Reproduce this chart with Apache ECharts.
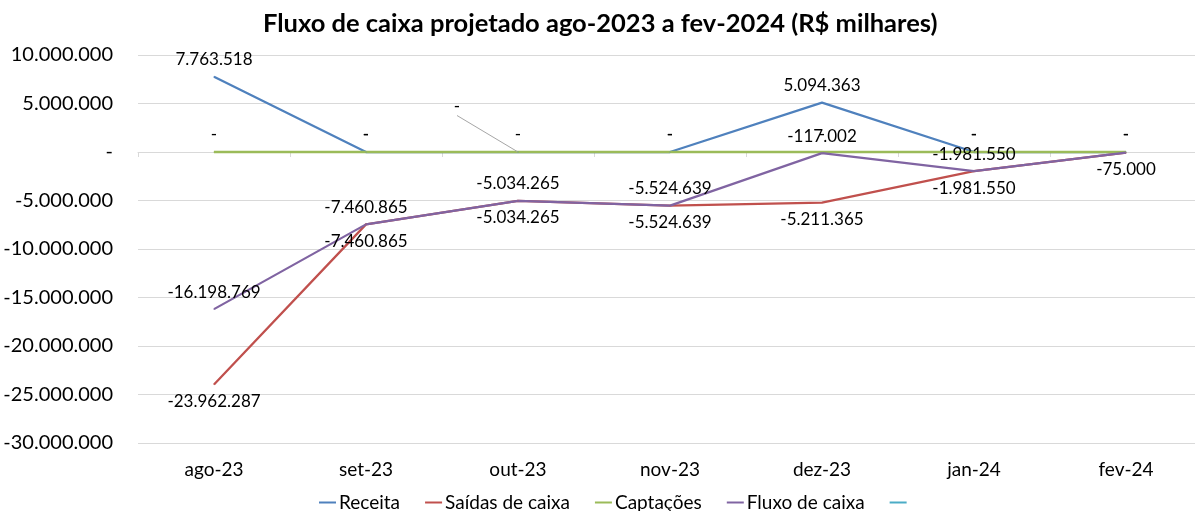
<html>
  <head>
    <script src="https://cdn.jsdelivr.net/npm/echarts@6.0.0/dist/echarts.min.js"></script>
    <title>Fluxo de caixa projetado</title>
  </head>
  <body style="margin:0; background-color:#ffffff; overflow:hidden;">
    <!-- plot area runs a few px past the right edge, like the original -->
    <div id="chart" style="width:1202px; height:511px;"></div>
    <script>
      const months = ['ago-23', 'set-23', 'out-23', 'nov-23', 'dez-23', 'jan-24', 'fev-24'];
      const receita = [7763518, 0, 0, 0, 5094363, 0, 0];
      const saidas = [-23962287, -7460865, -5034265, -5524639, -5211365, -1981550, -75000];
      const captacoes = [0, 0, 0, 0, 0, 0, 0];
      const fluxo = [-16198769, -7460865, -5034265, -5524639, -117002, -1981550, -75000];

      const font = 'Lato';
      // numbers like Excel accounting format: dots, zero shown as "-"
      const fmt = v => {
        if (v === 0) return '-';
        const s = Math.abs(v).toString().replace(/\B(?=(\d{3})+(?!\d))/g, '.');
        return (v < 0 ? '-' : '') + s;
      };

      const lbl = (pos, dist) => ({
        show: true,
        position: pos,
        distance: dist,
        fontFamily: font,
        fontSize: 17,
        color: '#000',
        formatter: p => fmt(p.value)
      });

      // tiny symbols so the labels have something to hang on
      const line = (name, color, width) => ({
        name: name,
        type: 'line',
        symbol: 'circle',
        symbolSize: 1,
        showSymbol: true,
        color: color,
        lineStyle: { width: width },
        itemStyle: { borderWidth: 0 },
        labelLine: { show: false }
      });

      const chart = echarts.init(document.getElementById('chart'));

      const option = {
        backgroundColor: '#ffffff',
        animation: false,
        title: {
          text: 'Fluxo de caixa projetado ago-2023 a fev-2024 (R$ milhares)',
          left: 258,
          top: 6,
          textStyle: { fontFamily: font, fontSize: 25.5, fontWeight: 'bold', color: '#000' }
        },
        legend: {
          bottom: -6,
          left: 314,
          icon: 'rect',
          itemWidth: 17,
          itemHeight: 2,
          itemGap: 25,
          textStyle: { fontFamily: font, fontSize: 19, color: '#000', padding: [0, 0, 0, -2] },
          data: ['Receita', 'Saídas de caixa', 'Captações', 'Fluxo de caixa', ' ']
        },
        grid: { left: 138, top: 55, right: 0, bottom: 68, containLabel: false },
        xAxis: [
          {
            type: 'category',
            data: months,
            axisLine: { show: false, onZero: false },
            axisTick: { show: false },
            axisLabel: { fontFamily: font, fontSize: 19, color: '#000', margin: 17 }
          },
          {
            type: 'category',
            data: months,
            position: 'bottom',
            axisLine: { show: true, onZero: true, lineStyle: { color: '#d9d9d9', width: 1 } },
            axisTick: { show: true, length: 5, lineStyle: { color: '#d9d9d9' } },
            axisLabel: { show: false }
          }
        ],
        yAxis: {
          type: 'value',
          min: -30000000,
          max: 10000000,
          interval: 5000000,
          axisLine: { show: false },
          axisTick: { show: false },
          splitLine: { lineStyle: { color: '#d9d9d9', width: 1 } },
          axisLabel: { fontFamily: font, fontSize: 20, color: '#000', margin: 25, formatter: fmt }
        },
        series: [
          Object.assign(line('Receita', '#4f81bd', 2.25), {
            label: lbl('top', 8),
            labelLayout: p => (p.dataIndex === 2
              ? { x: 457, y: 107, align: 'center', verticalAlign: 'middle' }
              : {}),
            data: receita.map((v, i) => (i === 2
              ? { value: v, labelLine: { show: true, lineStyle: { color: '#a6a6a6', width: 1 } } }
              : v))
          }),
          Object.assign(line('Saídas de caixa', '#c0504d', 2.25), {
            label: lbl('bottom', 8),
            data: saidas
          }),
          Object.assign(line('Captações', '#9bbb59', 2.5), {
            label: lbl('top', 8),
            data: captacoes
          }),
          Object.assign(line('Fluxo de caixa', '#8064a2', 2.25), {
            label: lbl('top', 8),
            data: fluxo.map((v, i) => (i === 6 ? { value: v, label: { show: false } } : v))
          }),
          Object.assign(line(' ', '#4bacc6', 2), { data: [] })
        ]
      };

      chart.setOption(option);
    </script>
  </body>
</html>
